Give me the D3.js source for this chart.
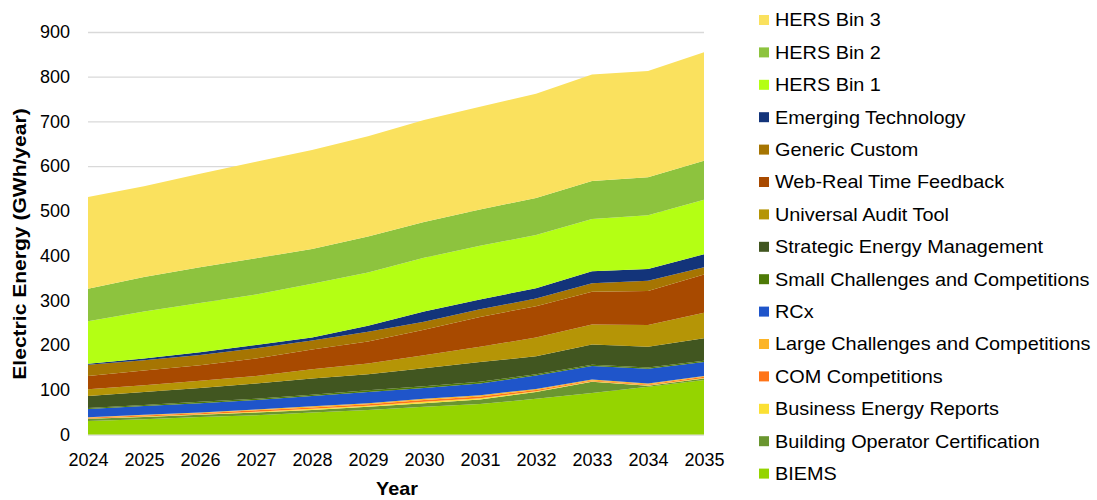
<!DOCTYPE html>
<html>
<head>
<meta charset="utf-8">
<script src="https://cdn.jsdelivr.net/npm/d3@7"></script>
<style>
  body { margin: 0; background: #fff; }
  svg { font-family: "Liberation Sans", Arial, sans-serif; }
  .tick text { fill: #000; }
</style>
</head>
<body>
<script>
// #region data
var years = ["2024", "2025", "2026", "2027", "2028", "2029", "2030", "2031", "2032", "2033", "2034", "2035"];

var biems       = [30, 34, 39, 43, 49, 55, 62, 68, 80, 93, 107, 122];
var boc         = [5, 5, 5, 6, 6, 7, 8, 10, 15, 25, 2, 3];
var ber         = [1, 1.5, 1.5, 2, 2.5, 2.5, 3, 3, 1.5, 1, 1, 1.5];
var comComp     = [1.5, 2, 2, 3, 3, 3, 4, 4, 3, 2, 2, 2.5];
var largeChall  = [1, 1.5, 1.5, 2, 2.5, 2.5, 3, 3, 2.5, 2, 2, 2];
var rcx         = [18.5, 19.5, 21, 21, 23, 25, 24, 26, 30, 30, 33, 31];
var smallChall  = [2, 2.5, 3, 3, 3, 4, 4, 4, 3, 3, 3, 3];
var sem         = [27, 29, 31, 34, 36, 36, 40, 44, 40, 45, 46, 50];
var uat         = [15, 15, 16, 17, 21, 24, 29, 34, 42, 45, 49, 57];
var webRT       = [30, 33, 35, 39, 44, 49, 57, 67, 70, 73, 76, 86];
var generic     = [25, 23, 23, 23, 20, 22, 18, 17, 17, 19, 23, 16];
var emerging    = [2, 4, 6, 7, 7, 13, 23, 22, 23, 27, 26, 29];
var hers1       = [95, 105, 110, 113, 120, 119, 120, 120, 119, 117, 120, 122];
var hers2       = [73, 77, 80, 81, 78, 81, 80, 81, 83, 85, 85, 87];
var hers3       = [205, 203, 209, 216, 221, 224, 228, 230, 233, 238, 238, 243];

var yTicks = [0, 100, 200, 300, 400, 500, 600, 700, 800, 900];

// bottom of the stack first
var series = [
  { name: "BIEMS", values: biems, color: "#95d400" },
  { name: "Building Operator Certification", values: boc, color: "#6a9630" },
  { name: "Business Energy Reports", values: ber, color: "#fbe034" },
  { name: "COM Competitions", values: comComp, color: "#ff7417" },
  { name: "Large Challenges and Competitions", values: largeChall, color: "#fcb427" },
  { name: "RCx", values: rcx, color: "#1f55ca" },
  { name: "Small Challenges and Competitions", values: smallChall, color: "#4e7a07" },
  { name: "Strategic Energy Management", values: sem, color: "#415620" },
  { name: "Universal Audit Tool", values: uat, color: "#b59506" },
  { name: "Web-Real Time Feedback", values: webRT, color: "#a84a00" },
  { name: "Generic Custom", values: generic, color: "#a67502" },
  { name: "Emerging Technology", values: emerging, color: "#13347a" },
  { name: "HERS Bin 1", values: hers1, color: "#b4ff14" },
  { name: "HERS Bin 2", values: hers2, color: "#8dc33e" },
  { name: "HERS Bin 3", values: hers3, color: "#fae15e" }
];
// #endregion

// #region layout
var margin = {top: 32, left: 88},
    width = 704 - 88,
    height = 434.5 - 32;

var svg = d3.select("body").append("svg")
    .attr("width", 1097)
    .attr("height", 500);

var g = svg.append("g")
    .attr("transform", "translate(" + margin.left + "," + margin.top + ")");

var x = d3.scalePoint().domain(years).range([0, width]);
var y = d3.scaleLinear().domain([0, 900]).range([height, 0]);
// #endregion

// table for d3.stack, one row per year
var table = years.map(function(yr, i) {
  var row = {year: yr};
  series.forEach(function(s) { row[s.name] = s.values[i]; });
  return row;
});

var stacked = d3.stack()
    .keys(series.map(function(s) { return s.name; }))(table);

// gridlines
g.append("g")
    .attr("class", "grid")
    .call(d3.axisLeft(y).tickValues(yTicks).tickSize(-width).tickFormat(""))
    .call(function(sel) {
      sel.select(".domain").remove();
      sel.selectAll("line").attr("stroke", "#d9d9d9").attr("stroke-width", 1.3);
    });

// areas
var area = d3.area()
    .x(function(d) { return x(d.data.year); })
    .y0(function(d) { return y(d[0]); })
    .y1(function(d) { return y(d[1]); });

g.selectAll(".layer")
    .data(stacked)
  .enter().append("path")
    .attr("class", "layer")
    .attr("fill", function(d, i) { return series[i].color; })
    .attr("d", area);

// y axis
g.append("g")
    .call(d3.axisLeft(y).tickValues(yTicks).tickSize(0).tickPadding(18))
    .call(function(sel) {
      sel.select(".domain").remove();
      sel.selectAll("text").attr("font-size", "18px").attr("font-family", null);
    });

// x axis
g.append("g")
    .attr("transform", "translate(0," + height + ")")
    .call(d3.axisBottom(x).tickSize(0).tickPadding(19))
    .call(function(sel) {
      sel.select(".domain").remove();
      sel.selectAll("text").attr("font-size", "18px").attr("font-family", null);
    });

// axis titles (reference text is a bit wider than the font, so stretch it)
svg.append("text")
    .attr("transform", "translate(397,495) scale(1.1,1)")
    .attr("text-anchor", "middle")
    .attr("font-size", "18px")
    .attr("font-weight", "bold")
    .text("Year");

svg.append("text")
    .attr("transform", "translate(26,244) rotate(-90) scale(1.17,1)")
    .attr("text-anchor", "middle")
    .attr("font-size", "18px")
    .attr("font-weight", "bold")
    .text("Electric Energy (GWh/year)");

// legend, top of stack first
var legend = svg.append("g")
    .attr("transform", "translate(759,20)");

var item = legend.selectAll(".item")
    .data(series.slice().reverse())
  .enter().append("g")
    .attr("class", "item")
    .attr("transform", function(d, i) { return "translate(0," + (i * 32.4) + ")"; });

item.append("rect")
    .attr("y", -5)
    .attr("width", 10)
    .attr("height", 10)
    .attr("fill", function(d) { return d.color; });

item.append("text")
    .attr("transform", "translate(16,0) scale(1.135,1)")
    .attr("dy", "0.36em")
    .attr("font-size", "17.5px")
    .text(function(d) { return d.name; });
</script>
</body>
</html>
